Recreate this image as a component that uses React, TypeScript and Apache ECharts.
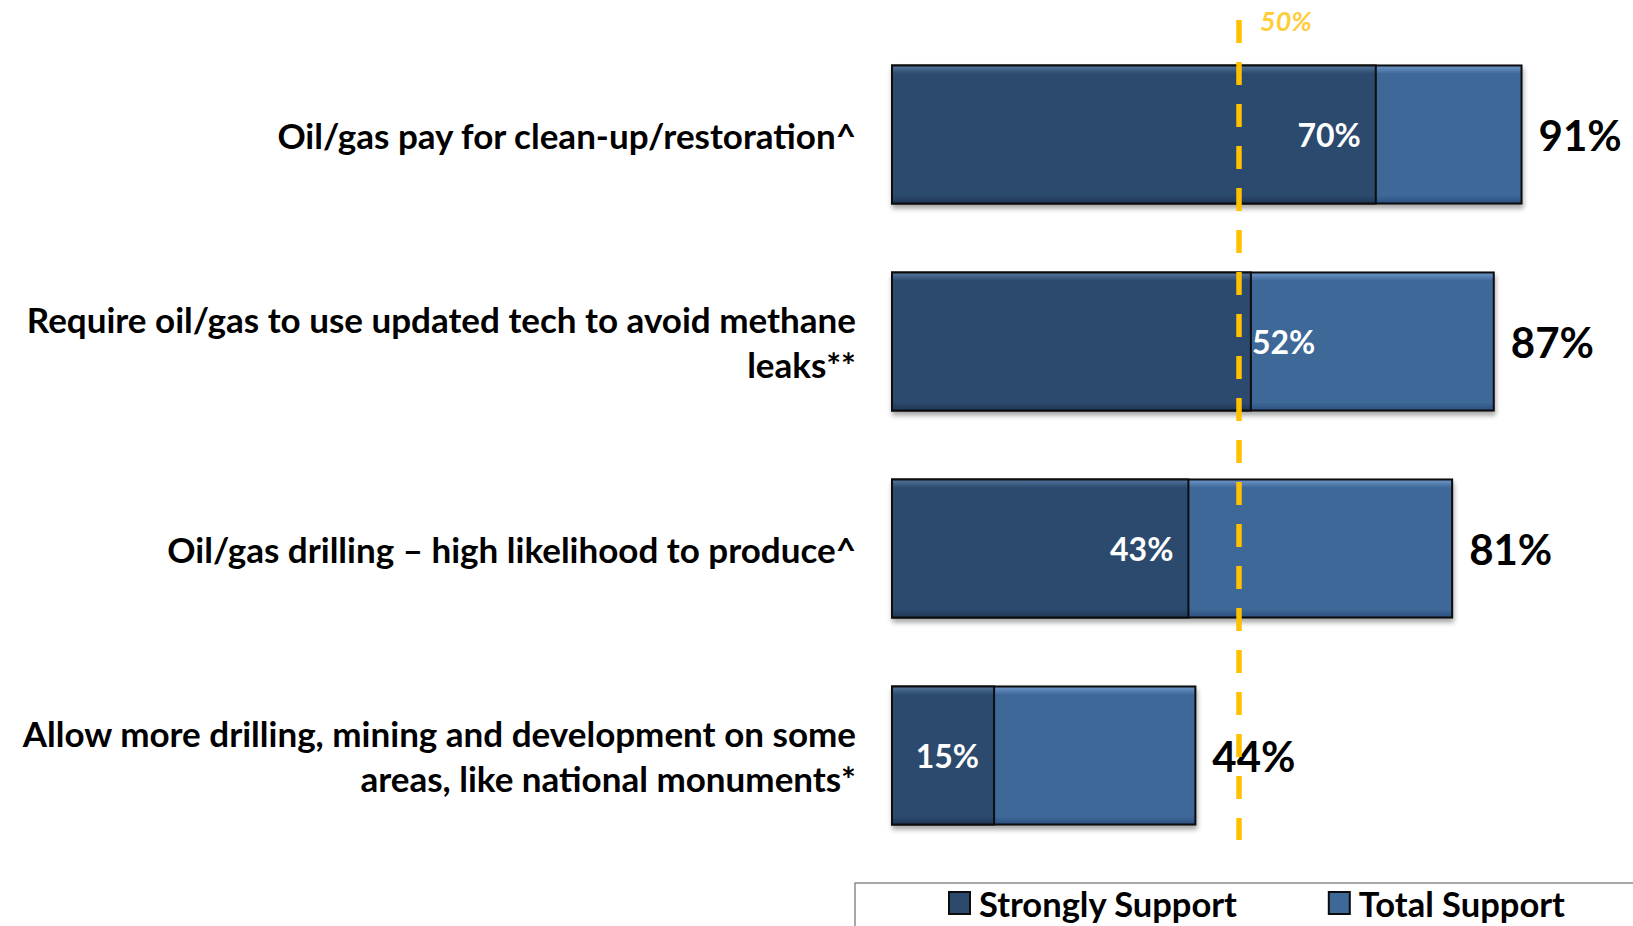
import React, { useEffect, useRef } from "react";
import * as echarts from "echarts";

const categories = [
  "Oil/gas pay for clean-up/restoration^",
  "Require oil/gas to use updated tech to avoid methane\nleaks**",
  "Oil/gas drilling \u2013 high likelihood to produce^",
  "Allow more drilling, mining and development on some\nareas, like national monuments*",
];
const stronglySupport = [70, 52, 43, 15];
const totalSupport = [91, 87, 81, 44];
const seriesNames = ["Strongly Support", "Total Support"];
const referenceValue = 50;
const referenceLabel = "50%";

const FONT = "Lato, 'Open Sans', sans-serif";

function bevel(top: string, base: string, bottom: string) {
  return new echarts.graphic.LinearGradient(0, 0, 0, 1, [
    { offset: 0, color: top },
    { offset: 0.06, color: base },
    { offset: 0.94, color: base },
    { offset: 1, color: bottom },
  ]);
}

export default function App() {
  const ref = useRef<HTMLDivElement>(null);

  useEffect(() => {
    if (!ref.current) return;
    const chart = echarts.init(ref.current, undefined, { renderer: "svg" });

    const barStyleCommon = {
      borderColor: "#0d0d0d",
      borderWidth: 2,
      shadowColor: "rgba(0,0,0,0.35)",
      shadowBlur: 5,
      shadowOffsetX: 1,
      shadowOffsetY: 4,
    };

    const strongData = stronglySupport.map((v, i) =>
      i === 1 ? { value: v, label: { position: "right", distance: 0 } } : v
    );

    const option: any = {
      animation: false,
      backgroundColor: "#ffffff",
      textStyle: { fontFamily: FONT },
      grid: [
        { left: 891, width: 694, top: 31, height: 828, containLabel: false },
        { left: 891, width: 696, top: 20, bottom: 86, show: false },
      ],
      xAxis: [
        { type: "value", gridIndex: 0, min: 0, max: 100, show: false },
        { type: "value", gridIndex: 1, min: 0, max: 100, show: false },
      ],
      yAxis: [
        {
          type: "category",
          gridIndex: 0,
          data: categories,
          inverse: true,
          axisLine: { show: false },
          axisTick: { show: false },
          splitLine: { show: false },
          axisLabel: {
            margin: 35,
            fontSize: 35,
            fontWeight: "bold",
            color: "#000",
            lineHeight: 45,
            fontFamily: FONT,
            align: "right",
          },
        },
        { type: "value", gridIndex: 1, min: 0, max: 1, show: false },
      ],
      legend: {
        data: seriesNames,
        left: 855,
        top: 883,
        width: 800,
        padding: [2, 120, 30, 93],
        itemGap: 90,
        itemWidth: 21,
        itemHeight: 22,
        icon: "rect",
        selectedMode: false,
        borderColor: "#8c8c8c",
        borderWidth: 1.5,
        textStyle: {
          fontSize: 34.5,
          lineHeight: 36,
          fontWeight: "bold",
          color: "#000",
          fontFamily: FONT,
          padding: [0, 0, 0, 4],
        },
      },
      series: [
        {
          name: seriesNames[1],
          type: "bar",
          xAxisIndex: 0,
          yAxisIndex: 0,
          data: totalSupport,
          barWidth: 140,
          itemStyle: {
            ...barStyleCommon,
            color: bevel("#7099cc", "#3e6898", "#2b5080"),
          },
          label: {
            show: true,
            position: "right",
            distance: 16,
            formatter: "{c}%",
            fontSize: 42,
            fontWeight: "bold",
            color: "#000",
            fontFamily: FONT,
          },
          z: 2,
        },
        {
          name: seriesNames[0],
          type: "bar",
          xAxisIndex: 0,
          yAxisIndex: 0,
          data: strongData,
          barWidth: 140,
          barGap: "-100%",
          itemStyle: {
            ...barStyleCommon,
            shadowBlur: 0,
            shadowOffsetX: 0,
            shadowOffsetY: 0,
            color: bevel("#56779f", "#2c4a6e", "#1f3656"),
          },
          label: {
            show: true,
            position: "insideRight",
            distance: 16,
            formatter: "{c}%",
            fontSize: 32,
            fontWeight: "bold",
            color: "#fff",
            fontFamily: FONT,
          },
          z: 3,
        },
        {
          name: "reference",
          type: "line",
          xAxisIndex: 1,
          yAxisIndex: 1,
          data: [
            [referenceValue, 1],
            [referenceValue, 0],
          ],
          symbol: "none",
          silent: true,
          lineStyle: { color: "#ffc000", width: 5.5, type: [23, 19] },
          z: 10,
        },
        {
          name: "referenceLabel",
          type: "scatter",
          xAxisIndex: 1,
          yAxisIndex: 1,
          data: [[referenceValue, 1]],
          symbolSize: 0,
          itemStyle: { color: "transparent" },
          silent: true,
          label: {
            show: true,
            position: "right",
            distance: 21,
            formatter: referenceLabel,
            fontSize: 27,
            fontWeight: "bold",
            fontStyle: "italic",
            color: "#ffc000",
            fontFamily: FONT,
          },
          z: 10,
        },
      ],
    };

    chart.setOption(option);
    return () => chart.dispose();
  }, []);

  return (
    <div
      ref={ref}
      style={{ position: "fixed", left: 0, top: 0, width: 1633, height: 926, background: "#fff" }}
    />
  );
}
